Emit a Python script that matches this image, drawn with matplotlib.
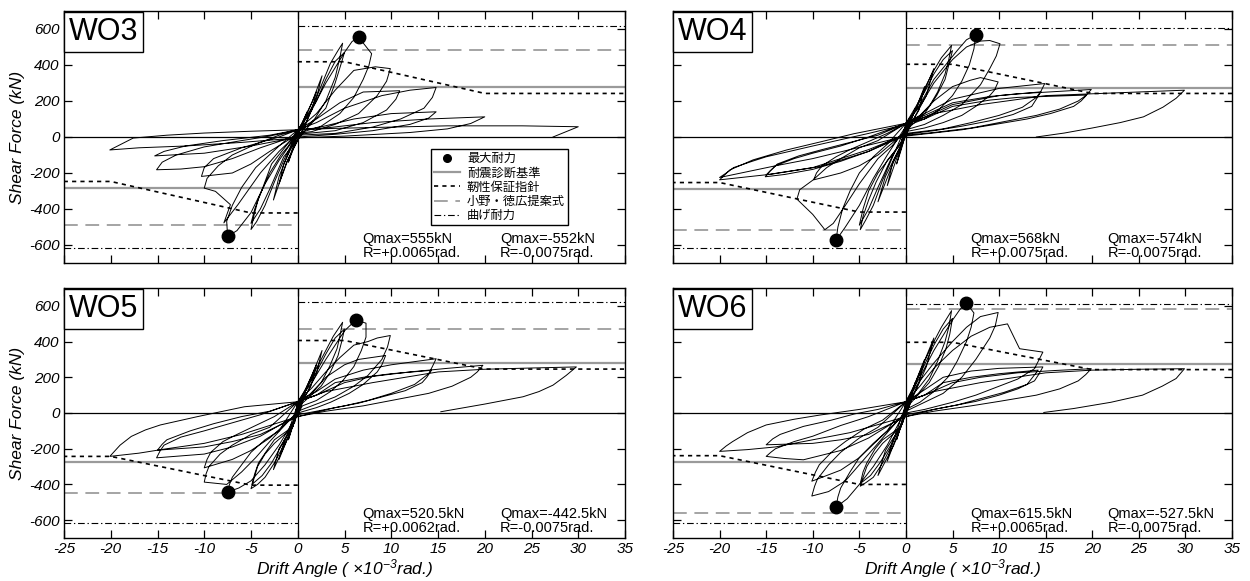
import numpy as np
import matplotlib
matplotlib.use('Agg')
import matplotlib.pyplot as plt
from matplotlib.lines import Line2D
from matplotlib.font_manager import FontProperties

plt.rcParams['font.family'] = ['Liberation Sans', 'DejaVu Sans']
plt.rcParams['mathtext.fontset'] = 'custom'
plt.rcParams['mathtext.rm'] = 'Liberation Sans:italic'
plt.rcParams['mathtext.it'] = 'Liberation Sans:italic'
plt.rcParams['mathtext.sf'] = 'Liberation Sans:italic'
plt.rcParams['axes.unicode_minus'] = False

# ---------------- data ----------------
specimens = ['WO3', 'WO4', 'WO5', 'WO6']
x_ticks = [-25, -20, -15, -10, -5, 0, 5, 10, 15, 20, 25, 30, 35]
y_ticks = [-600, -400, -200, 0, 200, 400, 600]

qmax_pos = [555, 568, 520.5, 615.5]
r_pos = [6.5, 7.5, 6.2, 6.5]
qmax_neg = [-552, -574, -442.5, -527.5]
r_neg = [-7.5, -7.5, -7.5, -7.5]
note_pos = ['Qmax=555kN\nR=+0.0065rad.', 'Qmax=568kN\nR=+0.0075rad.',
            'Qmax=520.5kN\nR=+0.0062rad.', 'Qmax=615.5kN\nR=+0.0065rad.']
note_neg = ['Qmax=-552kN\nR=-0.0075rad.', 'Qmax=-574kN\nR=-0.0075rad.',
            'Qmax=-442.5kN\nR=-0.0075rad.', 'Qmax=-527.5kN\nR=-0.0075rad.']

# 耐震診断基準 (gray solid)
diag_pos = [278, 275, 282, 276]
diag_neg = [-284, -288, -276, -276]
# 小野・徳広提案式 (gray dashed)
ono_pos = [485, 509, 471, 582]
ono_neg = [-488, -518, -447, -561]
# 曲げ耐力 (dash-dot)
flex_pos = [615, 607, 619, 613]
flex_neg = [-616, -619, -617, -617]
# 靭性保証指針 (dotted polyline)
tough_x_pos = [0, 5, 20, 35]
tough_x_neg = [0, -5, -20, -25]
tough_y_pos = [[418, 418, 242, 242], [404, 404, 242, 242],
               [406, 406, 246, 246], [396, 396, 243, 243]]
tough_y_neg = [[-422, -422, -247, -247], [-417, -417, -253, -253],
               [-404, -404, -243, -243], [-400, -400, -239, -239]]

legend_labels = ['最大耐力', '耐震診断基準', '靭性保証指針', '小野・徳広提案式', '曲げ耐力']

wo3_loop = [
    (0, 0), (0.5, 80), (1.0, 140), (0.6, 70), (0.0, 15), (-0.5, -70), (-1.0, -140), (-0.6, -70), (0.0, 20),
    (1.0, 130), (2.0, 250), (1.5, 150), (0.5, 40), (-1.0, -120), (-2.0, -260), (-1.5, -150), (-0.5, -40), (0.0, 30),
    (1.5, 190), (2.6, 340), (2.0, 220), (0.7, 50), (-1.2, -140), (-2.6, -350), (-2.0, -220), (-0.7, -50), (0.0, 35),
    (1.0, 110), (2.0, 220), (3.5, 410), (4.3, 480), (4.8, 521), (4.5, 440), (4.0, 330), (3.0, 200), (1.8, 100),
    (1.0, 60), (0.0, 30), (-1.5, -130), (-2.5, -250), (-3.5, -380), (-4.4, -470), (-5.0, -514), (-4.7, -440),
    (-4.2, -340), (-3.0, -200), (-1.8, -100), (-1.0, -50), (0.0, 38),
    (2.0, 200), (3.0, 320), (4.0, 420), (5.0, 470), (4.6, 400), (4.0, 300), (3.0, 160), (1.0, 50), (-1.5, -110),
    (-3.0, -290), (-4.0, -400), (-5.0, -480), (-4.6, -400), (-3.8, -290), (-2.8, -150), (-0.8, -20), (0.0, 40),
    (1.5, 150), (3.0, 300), (5.0, 470), (5.8, 530), (6.5, 555), (7.9, 463), (7.6, 395), (7.0, 320), (6.0, 220),
    (4.5, 130), (2.5, 60), (0.0, 20), (-2.0, -130), (-3.5, -260), (-5.0, -420), (-6.5, -520), (-7.5, -552),
    (-7.6, -468), (-7.0, -380), (-6.0, -280), (-4.5, -170), (-2.0, -50), (0.0, 40),
    (2.0, 130), (4.0, 260), (6.0, 370), (8.3, 390), (9.9, 380), (9.5, 310), (8.5, 230), (6.5, 130), (4.0, 70),
    (1.5, 30), (0.0, 20), (-2.0, -80), (-4.0, -200), (-6.4, -376), (-7.9, -477), (-7.2, -376), (-8.8, -302),
    (-10.0, -284), (-9.7, -230), (-8.5, -160), (-7.0, -100), (-4.5, -40), (-2.0, 10), (0.0, 40),
    (2.0, 100), (4.5, 190), (7.0, 250), (10.9, 257), (10.5, 210), (9.5, 150), (7.0, 80), (4.0, 35), (0.0, 15),
    (-3.0, -80), (-5.0, -150), (-7.0, -200), (-10.3, -219), (-10.0, -170), (-9.0, -120), (-6.0, -60),
    (-2.0, 0), (0.0, 40),
    (2.0, 80), (5.0, 160), (9.0, 230), (12.0, 260), (14.8, 275), (14.4, 220), (13.5, 160), (11.0, 100),
    (8.0, 55), (4.0, 20), (0.0, 10), (-4.0, -60), (-7.0, -120), (-10.0, -165), (-12.5, -178), (-15.1, -182),
    (-14.5, -140), (-13.0, -100), (-10.0, -55), (-6.0, -20), (-3.0, 5), (0.0, 40),
    (2.0, 50), (6.0, 100), (10.0, 130), (14.8, 140), (14.0, 105), (12.0, 70), (8.0, 35), (4.0, 15), (0.0, 0),
    (-5.0, -50), (-10.0, -90), (-15.3, -105), (-14.3, -80), (-12.0, -50), (-8.0, -20), (-3.0, 10), (0.0, 40),
    (3.0, 50), (8.0, 80), (14.0, 100), (20.0, 112), (18.5, 75), (16.0, 45), (12.0, 25), (5.0, 5), (0.0, -5),
    (-6.0, -30), (-12.0, -50), (-17.0, -60), (-20.1, -72), (-17.6, -6), (-14.0, 10), (-10.0, 22), (-5.0, 32),
    (0.0, 40),
    (4.0, 48), (10.0, 55), (16.0, 62), (24.0, 62), (30.0, 57), (28.5, 25), (27.3, 0),
]

wo4_loop = [
    (0, 0), (0.5, 90), (1.0, 160), (0.5, 80), (0.0, 20), (-0.5, -70), (-1.0, -150), (-0.5, -60), (0.0, 30),
    (1.0, 150), (2.0, 280), (1.4, 150), (0.3, 50), (-1.0, -120), (-2.0, -270), (-1.4, -140), (-0.3, -30), (0.0, 40),
    (1.5, 200), (3.0, 380), (2.2, 230), (0.5, 70), (-1.5, -160), (-3.0, -360), (-2.2, -220), (-0.5, -40), (0.0, 60),
    (1.0, 150), (2.0, 270), (3.0, 370), (3.8, 440), (4.9, 509), (4.6, 430), (4.2, 350), (3.4, 250), (2.5, 170),
    (1.2, 100), (0.0, 60), (-1.5, -120), (-2.5, -240), (-3.5, -380), (-4.3, -460), (-4.9, -515), (-4.6, -440),
    (-4.0, -350), (-3.2, -250), (-2.0, -130), (-0.5, -35), (0.0, 76),
    (2.0, 250), (3.0, 350), (4.0, 430), (5.0, 480), (4.6, 400), (4.2, 320), (3.3, 230), (2.0, 130), (0.5, 60),
    (-1.5, -110), (-3.0, -280), (-4.0, -400), (-5.0, -490), (-4.6, -400), (-4.0, -300), (-3.0, -200),
    (-1.5, -100), (-0.5, -30), (0.0, 76),
    (1.5, 180), (3.0, 320), (5.5, 480), (6.5, 540), (7.5, 568), (7.3, 490), (6.8, 400), (6.0, 310), (5.0, 230),
    (3.5, 150), (2.0, 100), (0.0, 60), (-2.0, -100), (-3.5, -230), (-5.0, -380), (-6.5, -500), (-7.5, -574),
    (-7.3, -500), (-6.8, -400), (-6.0, -300), (-5.0, -200), (-3.5, -110), (-2.0, -40), (0.0, 76),
    (1.5, 170), (3.0, 300), (5.0, 430), (6.5, 500), (8.0, 533), (9.0, 536), (10.1, 518), (9.7, 450),
    (9.0, 380), (8.0, 290), (6.0, 180), (4.0, 120), (2.0, 70), (0.0, 40), (-1.5, -50), (-3.0, -120),
    (-5.0, -260), (-6.5, -380), (-7.8, -480), (-8.7, -515), (-10.0, -430), (-11.7, -345), (-11.4, -293),
    (-10.0, -240), (-8.5, -170), (-7.0, -120), (-5.0, -60), (-3.0, -20), (0.0, 76),
    (1.5, 120), (3.0, 200), (5.0, 280), (6.9, 315), (8.0, 330), (9.9, 306), (9.5, 260), (9.0, 230), (7.5, 170),
    (6.0, 120), (4.0, 80), (2.0, 50), (0.0, 30), (-3.0, -100), (-5.0, -160), (-7.0, -200), (-9.9, -238),
    (-9.6, -200), (-9.0, -160), (-7.5, -110), (-6.0, -70), (-4.0, -25), (-2.0, 20), (0.0, 76),
    (2.0, 130), (5.0, 210), (10.0, 270), (14.9, 297), (14.5, 255), (14.0, 220), (12.5, 165), (10.0, 120),
    (7.0, 80), (4.0, 45), (0.0, 20), (-4.0, -80), (-7.0, -135), (-10.0, -180), (-13.0, -208), (-15.1, -221),
    (-14.6, -190), (-14.0, -160), (-12.0, -120), (-10.0, -90), (-7.0, -50), (-4.0, 0), (0.0, 76),
    (2.0, 110), (5.0, 180), (10.0, 230), (14.5, 251), (14.0, 210), (13.5, 170), (11.5, 125), (9.0, 90),
    (6.0, 60), (3.0, 35), (0.0, 15), (-4.0, -70), (-10.0, -170), (-15.0, -210), (-14.4, -180), (-13.8, -150),
    (-11.5, -105), (-9.0, -70), (-6.0, -30), (-3.0, 10), (0.0, 76),
    (2.0, 120), (5.0, 190), (9.0, 225), (12.0, 240), (16.0, 252), (19.9, 264), (19.3, 230), (18.5, 200),
    (16.5, 155), (14.0, 120), (10.0, 80), (7.0, 50), (3.0, 25), (0.0, 10), (-4.0, -80), (-9.2, -164),
    (-14.5, -207), (-20.0, -238), (-18.9, -183), (-16.4, -127), (-12.8, -72), (-9.0, -25), (-5.6, 18),
    (-2.5, 50), (0.0, 76),
    (2.0, 100), (5.0, 170), (9.0, 205), (12.0, 220), (19.4, 233), (18.8, 200), (18.0, 170), (15.5, 130),
    (13.0, 100), (9.0, 65), (6.0, 40), (0.0, 5), (-6.0, -70), (-10.0, -120), (-14.0, -160), (-20.0, -225),
    (-19.0, -190), (-18.5, -170), (-16.5, -135), (-15.0, -110), (-10.0, -50), (-4.0, 20), (0.0, 70),
    (3.0, 130), (8.0, 180), (15.0, 230), (20.0, 240), (25.0, 250), (29.9, 260), (29.0, 215), (27.6, 166),
    (25.5, 112), (23.0, 80), (20.0, 50), (17.0, 22), (14.0, 0),
]

wo5_loop = [
    (0, 0), (0.5, 80), (1.0, 150), (0.5, 70), (0.0, 20), (-0.5, -70), (-1.0, -150), (-0.5, -60), (0.0, 30),
    (1.0, 150), (2.0, 270), (1.4, 150), (0.3, 50), (-1.0, -130), (-2.0, -260), (-1.4, -150), (-0.3, -50), (0.0, 40),
    (1.5, 210), (2.6, 350), (2.0, 220), (0.5, 60), (-1.3, -170), (-2.6, -317), (-2.0, -200), (-0.5, -70), (0.0, 55),
    (1.0, 140), (2.0, 250), (3.0, 350), (3.8, 430), (4.8, 508), (4.5, 430), (4.2, 360), (3.4, 260), (2.5, 170),
    (1.2, 100), (0.0, 50), (-1.5, -180), (-2.5, -280), (-3.5, -360), (-4.3, -400), (-5.0, -424), (-4.7, -370),
    (-4.3, -300), (-3.5, -230), (-2.5, -170), (-1.2, -110), (-0.5, -76), (0.0, 63),
    (2.0, 230), (3.0, 330), (4.0, 420), (5.0, 470), (4.7, 400), (4.3, 320), (3.5, 230), (2.5, 150), (0.5, 55),
    (-1.5, -160), (-2.8, -280), (-3.8, -350), (-4.9, -400), (-4.6, -340), (-4.2, -280), (-3.3, -210),
    (-2.5, -150), (-0.5, -76), (0.0, 63),
    (1.5, 170), (3.0, 300), (5.0, 460), (6.2, 520.5), (7.3, 503), (7.3, 425), (6.8, 350), (6.0, 260),
    (4.8, 180), (3.5, 120), (2.0, 70), (0.5, 40), (-2.0, -180), (-3.5, -290), (-5.0, -380), (-6.3, -420),
    (-7.5, -442.5), (-7.3, -400), (-7.0, -360), (-6.0, -290), (-5.0, -220), (-3.5, -150), (-2.0, -100),
    (0.0, 63),
    (1.5, 140), (3.0, 230), (4.5, 310), (6.0, 380), (7.5, 400), (8.5, 420), (9.9, 434), (9.6, 370), (9.0, 300),
    (7.5, 210), (6.0, 150), (4.0, 90), (2.0, 50), (0.0, 10), (-3.0, -160), (-4.5, -250), (-6.0, -330),
    (-7.6, -400), (-10.0, -387), (-9.8, -340), (-9.5, -300), (-8.3, -230), (-7.0, -180), (-5.0, -120),
    (-3.0, -80), (0.0, 63),
    (1.5, 110), (3.0, 200), (5.0, 270), (6.5, 300), (9.4, 322), (9.0, 270), (8.5, 230), (7.0, 160), (5.5, 110),
    (3.5, 60), (2.0, 30), (0.0, 0), (-3.0, -140), (-5.0, -210), (-7.0, -260), (-10.0, -307), (-9.7, -260),
    (-9.3, -220), (-8.0, -160), (-6.5, -120), (-4.5, -70), (-2.5, -20), (0.0, 63),
    (2.0, 120), (4.0, 190), (7.0, 240), (10.0, 270), (14.8, 304), (14.4, 260), (14.0, 220), (12.5, 160),
    (10.0, 110), (7.5, 70), (5.0, 40), (0.0, -10), (-4.0, -130), (-7.0, -190), (-10.0, -230), (-15.1, -251),
    (-14.7, -210), (-14.3, -180), (-12.5, -135), (-10.0, -100), (-7.0, -55), (-4.0, -10), (0.0, 63),
    (2.0, 100), (4.0, 170), (7.0, 200), (10.0, 220), (14.3, 239), (13.8, 200), (13.3, 170), (11.5, 125),
    (9.0, 90), (6.5, 55), (4.0, 30), (0.0, -20), (-4.0, -120), (-7.0, -160), (-10.0, -190), (-15.0, -208),
    (-14.5, -175), (-14.0, -150), (-11.5, -100), (-9.0, -60), (-6.0, -20), (-3.0, 10), (0.0, 63),
    (2.0, 100), (5.0, 170), (8.0, 205), (12.0, 230), (16.0, 250), (19.8, 267), (19.2, 230), (18.5, 200),
    (16.5, 150), (14.0, 110), (10.0, 70), (7.0, 40), (3.0, 10), (0.0, -20), (-6.0, -120), (-10.0, -170),
    (-14.0, -200), (-17.0, -225), (-20.1, -243), (-19.0, -180), (-17.8, -131), (-16.3, -95), (-14.7, -67),
    (-10.7, -20), (-5.7, 35), (0.0, 63),
    (3.0, 120), (8.0, 170), (15.0, 230), (20.0, 245), (25.0, 252), (29.8, 258), (28.7, 210), (27.3, 156),
    (25.8, 120), (24.1, 91), (20.0, 50), (15.3, 7),
]

wo6_loop = [
    (0, 0), (0.5, 90), (1.0, 170), (0.5, 80), (0.0, 20), (-0.5, -70), (-1.0, -150), (-0.5, -60), (0.0, 30),
    (1.0, 170), (2.0, 300), (1.4, 170), (0.3, 50), (-1.0, -130), (-2.0, -270), (-1.4, -150), (-0.3, -50), (0.0, 40),
    (1.5, 230), (3.0, 420), (2.2, 260), (0.5, 60), (-1.3, -180), (-3.0, -350), (-2.2, -210), (-0.5, -70), (0.0, 55),
    (1.0, 160), (2.0, 290), (3.0, 400), (3.8, 480), (4.9, 573), (4.6, 480), (4.2, 400), (3.4, 290), (2.5, 190),
    (1.2, 100), (0.0, 50), (-1.5, -180), (-2.5, -280), (-3.5, -360), (-4.3, -390), (-4.9, -410), (-4.6, -360),
    (-4.2, -300), (-3.4, -230), (-2.5, -170), (-1.2, -110), (-0.5, -76), (0.0, 63),
    (2.0, 270), (3.0, 380), (4.0, 470), (5.0, 530), (4.7, 440), (4.3, 360), (3.5, 260), (2.5, 170), (0.5, 55),
    (-1.5, -170), (-2.8, -280), (-3.8, -350), (-4.9, -395), (-4.6, -330), (-4.2, -280), (-3.3, -200),
    (-2.5, -150), (-0.5, -76), (0.0, 63),
    (1.5, 200), (3.0, 350), (5.0, 520), (5.8, 580), (6.5, 615.5), (7.3, 560), (7.0, 480), (6.5, 400),
    (5.5, 290), (4.5, 200), (3.0, 120), (1.5, 60), (0.0, 20), (-2.0, -180), (-3.5, -300), (-5.0, -400),
    (-6.3, -480), (-7.5, -527.5), (-7.3, -470), (-7.0, -420), (-6.0, -330), (-5.0, -250), (-3.5, -170),
    (-2.0, -100), (0.0, 63),
    (1.5, 180), (3.0, 280), (5.0, 400), (6.5, 480), (8.0, 540), (9.9, 563), (9.6, 490), (9.0, 420), (7.5, 300),
    (6.0, 200), (4.0, 110), (2.0, 60), (0.0, 10), (-3.0, -170), (-5.0, -290), (-6.5, -380), (-8.3, -440),
    (-10.1, -465), (-9.8, -410), (-9.5, -370), (-8.3, -290), (-7.0, -220), (-5.0, -140), (-3.0, -80), (0.0, 63),
    (1.5, 150), (3.0, 250), (5.0, 350), (7.0, 430), (9.0, 480), (10.9, 499), (12.2, 360), (14.7, 341),
    (13.8, 248), (12.0, 190), (10.0, 150), (7.5, 100), (5.0, 60), (2.0, 20), (0.0, 0), (-3.0, -150),
    (-5.0, -250), (-7.0, -320), (-10.1, -382), (-9.7, -330), (-9.3, -290), (-8.0, -220), (-6.5, -160),
    (-4.5, -90), (-2.5, -40), (0.0, 63),
    (2.0, 130), (4.0, 200), (7.0, 235), (10.0, 250), (14.7, 258), (14.3, 220), (13.8, 180), (12.0, 135),
    (10.0, 100), (7.5, 65), (5.0, 40), (0.0, -10), (-4.0, -140), (-7.0, -210), (-11.0, -262), (-13.0, -255),
    (-15.0, -243), (-14.5, -220), (-14.0, -200), (-12.0, -160), (-10.0, -130), (-7.0, -70), (-4.0, -20),
    (0.0, 63),
    (2.0, 100), (4.0, 170), (7.0, 200), (10.0, 220), (14.2, 240), (13.6, 200), (13.0, 160), (10.5, 115),
    (8.0, 80), (5.5, 45), (3.0, 20), (0.0, -20), (-4.0, -120), (-7.0, -150), (-10.0, -170), (-15.0, -178),
    (-14.3, -145), (-13.5, -120), (-11.0, -75), (-8.0, -40), (-5.5, -5), (-3.0, 20), (0.0, 63),
    (2.0, 100), (5.0, 170), (8.0, 200), (12.0, 225), (16.0, 238), (19.9, 248), (19.3, 215), (18.5, 180),
    (16.5, 135), (14.0, 100), (10.0, 65), (7.0, 40), (3.0, 10), (0.0, -20), (-6.0, -110), (-10.0, -150),
    (-14.0, -190), (-17.0, -205), (-20.0, -215), (-19.3, -185), (-18.6, -160), (-17.0, -110), (-15.0, -67),
    (-12.0, -35), (-9.3, -12), (-5.0, 20), (0.0, 63),
    (3.0, 120), (8.0, 170), (15.0, 225), (20.0, 240), (25.0, 245), (29.9, 248), (29.0, 193), (27.5, 150),
    (25.4, 100), (22.0, 60), (18.0, 25), (14.8, 3),
]

loops = [wo3_loop, wo4_loop, wo5_loop, wo6_loop]

# ---------------- layout ----------------
W, H = 1250, 581
fig = plt.figure(figsize=(W / 100, H / 100), dpi=100)
lefts = [64, 673]
widths = [561, 559]
tops = [11, 288]
bottoms = [263, 538]
ax_list = []
for r in range(2):
    for c in range(2):
        rect = [lefts[c] / W, 1 - bottoms[r] / H, widths[c] / W, (bottoms[r] - tops[r]) / H]
        ax_list.append((fig.add_axes(rect), r, c))

GRAY = '#9a9a9a'
DGRAY = '#8c8c8c'
XMIN, XMAX, YMIN, YMAX = -25, 35, -700, 700
DASHDOT = (0, (6, 2.5, 1.2, 2.5))
DASHED = (0, (9, 5))
DOTTED = (0, (2.5, 2.5))

for i, (ax, r, c) in enumerate(ax_list):
    loop = np.array(loops[i])
    ax.set_xlim(XMIN, XMAX)
    ax.set_ylim(YMIN, YMAX)
    ax.axhline(0, color='black', lw=0.9, zorder=2)
    ax.axvline(0, color='black', lw=0.9, zorder=2)
    ax.hlines(diag_pos[i], 0, XMAX, color=GRAY, lw=1.6, zorder=1)
    ax.hlines(diag_neg[i], XMIN, 0, color=GRAY, lw=1.6, zorder=1)
    ax.hlines(ono_pos[i], 0, XMAX, color=DGRAY, lw=1.1, linestyles=DASHED, zorder=1)
    ax.hlines(ono_neg[i], XMIN, 0, color=DGRAY, lw=1.1, linestyles=DASHED, zorder=1)
    ax.hlines(flex_pos[i], 0, XMAX, color='black', lw=0.8, linestyles=DASHDOT, zorder=1)
    ax.hlines(flex_neg[i], XMIN, 0, color='black', lw=0.8, linestyles=DASHDOT, zorder=1)
    ax.plot(tough_x_pos, tough_y_pos[i], color='black', lw=1.2, ls=DOTTED, zorder=1)
    ax.plot(tough_x_neg, tough_y_neg[i], color='black', lw=1.2, ls=DOTTED, zorder=1)
    ax.plot(loop[:, 0], loop[:, 1], color='black', lw=0.7, zorder=3)
    ax.plot([r_pos[i], r_neg[i]], [qmax_pos[i], qmax_neg[i]], 'o', color='black', ms=9, zorder=4)
    ax.text(0.532, 0.012, note_pos[i], transform=ax.transAxes, fontsize=10.5, ha='left', va='bottom',
            linespacing=1.0, zorder=5)
    ax.text(0.777, 0.012, note_neg[i], transform=ax.transAxes, fontsize=10.5, ha='left', va='bottom',
            linespacing=1.0, zorder=5)
    ax.text(0.008, 0.975, specimens[i], transform=ax.transAxes, fontsize=22, ha='left', va='top', zorder=6,
            bbox=dict(boxstyle='square,pad=0.16', fc='white', ec='black', lw=1.0))
    ax.set_xticks(x_ticks)
    ax.set_yticks(y_ticks)
    ax.tick_params(direction='in', length=6, width=0.9, top=True, right=True, labelsize=11, pad=3)
    for lab in ax.get_xticklabels() + ax.get_yticklabels():
        lab.set_fontstyle('italic')
    if r == 0:
        ax.tick_params(labelbottom=False)
    else:
        ax.set_xlabel('Drift Angle ( ×$10^{-3}$rad.)', fontsize=12.5, style='italic', labelpad=1)
    if c == 1:
        ax.tick_params(labelleft=False)
    else:
        ax.set_ylabel('Shear Force (kN)', fontsize=12.5, style='italic', labelpad=3)
    for s in ax.spines.values():
        s.set_linewidth(1.0)

ax0 = ax_list[0][0]
handles = [
    Line2D([], [], marker='o', color='black', ls='none', ms=5.5),
    Line2D([], [], color=GRAY, lw=1.6),
    Line2D([], [], color='black', lw=1.2, ls=DOTTED),
    Line2D([], [], color=DGRAY, lw=1.1, ls=DASHED),
    Line2D([], [], color='black', lw=0.8, ls=DASHDOT),
]
leg = ax0.legend(handles, legend_labels, loc='upper left', bbox_to_anchor=(0.654, 0.452),
                 prop=FontProperties(family=['Noto Sans CJK JP'], size=8.8),
                 frameon=True, fancybox=False, edgecolor='black', framealpha=1,
                 handlelength=2.1, handletextpad=0.6, labelspacing=0.1, borderpad=0.25,
                 borderaxespad=0)
leg.get_frame().set_linewidth(1.0)
leg.set_zorder(7)

fig.savefig('out.png', dpi=100)
